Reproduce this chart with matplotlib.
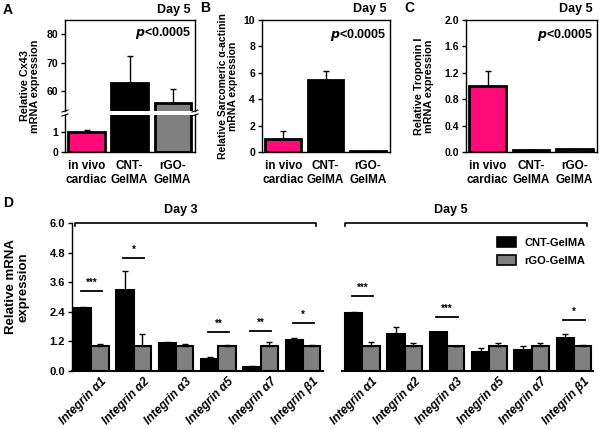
import matplotlib
matplotlib.use("Agg")
import matplotlib.pyplot as plt
from matplotlib.patches import Patch
import numpy as np

plt.rcParams['font.family'] = ['Liberation Sans', 'DejaVu Sans']
plt.rcParams['font.weight'] = 'bold'
plt.rcParams['axes.linewidth'] = 1.0

# ---- data ----
groups_abc = ["in vivo\ncardiac", "CNT-\nGelMA", "rGO-\nGelMA"]
bar_colors = ["#ff0a78", "#000000", "#808080"]

cx43 = [1.0, 63.0, 55.7]
cx43_err = [0.08, 9.3, 5.0]

actinin = [1.0, 5.45, 0.1]
actinin_err = [0.6, 0.65, 0.0]

troponin = [1.0, 0.035, 0.05]
troponin_err = [0.22, 0.0, 0.0]

integrins = ["Integrin α1", "Integrin α2", "Integrin α3",
             "Integrin α5", "Integrin α7", "Integrin β1"]
day3_cnt = [2.56, 3.28, 1.14, 0.49, 0.18, 1.27]
day3_cnt_err = [0.04, 0.77, 0.05, 0.08, 0.02, 0.05]
day3_rgo = [1.0, 1.0, 1.0, 1.0, 1.0, 1.0]
day3_rgo_err = [0.11, 0.51, 0.09, 0.07, 0.18, 0.05]
day5_cnt = [2.36, 1.50, 1.57, 0.79, 0.86, 1.32]
day5_cnt_err = [0.03, 0.28, 0.03, 0.13, 0.14, 0.17]
day5_rgo = [1.0, 1.0, 1.0, 1.0, 1.0, 1.0]
day5_rgo_err = [0.18, 0.15, 0.0, 0.12, 0.15, 0.05]
day3_sig = [("***", 3.24), ("*", 4.6), None, ("**", 1.58), ("**", 1.62), ("*", 1.95)]
day5_sig = [("***", 3.03), None, ("***", 2.19), None, None, ("*", 2.08)]

W, H = 600, 429
fig = plt.figure(figsize=(W / 100, H / 100), dpi=100)


def px_axes(l, t, r, b):
    return fig.add_axes([l / W, 1 - b / H, (r - l) / W, (b - t) / H])


def fig_text(x, y, s, **kw):
    fig.text(x / W, 1 - y / H, s, **kw)


xpos = np.arange(3)
bw = 0.84
xl = (-0.5, 2.52)


def draw_bars(ax, vals, errs):
    ax.bar(xpos, vals, width=bw, color=bar_colors, edgecolor='black', linewidth=2)
    ax.errorbar(xpos, vals, yerr=[np.zeros(3), errs], fmt='none', ecolor='black',
                elinewidth=1, capsize=2.5, capthick=1)
    ax.set_xlim(*xl)


def style_box(ax):
    ax.tick_params(axis='y', direction='out', length=3, width=1, labelsize=7.5, pad=2)
    for lab in ax.get_yticklabels():
        lab.set_fontweight('bold')


def cat_labels(ax):
    ax.set_xticks(xpos)
    ax.set_xticklabels(groups_abc, fontsize=8.5, fontweight='bold', linespacing=1.2)
    ax.tick_params(axis='x', length=0, pad=6)


# ---- Panel A (broken axis) ----
axA_top = px_axes(65, 20, 195, 111)
axA_bot = px_axes(65, 115, 195, 152)
for ax in (axA_top, axA_bot):
    draw_bars(ax, cx43, cx43_err)
    style_box(ax)
axA_top.set_ylim(53, 85)
axA_top.set_yticks([60, 70, 80])
axA_top.spines['bottom'].set_visible(False)
axA_top.tick_params(axis='x', bottom=False, labelbottom=False)
axA_bot.set_ylim(0, 1.85)
axA_bot.set_yticks([0, 1])
axA_bot.spines['top'].set_visible(False)
cat_labels(axA_bot)
for xx in (65, 195):
    for dy in (0, 4):
        fig.add_artist(plt.Line2D([(xx - 3) / W, (xx + 3) / W],
                                  [1 - (111 + dy + 1) / H, 1 - (111 + dy - 1) / H],
                                  color='black', lw=0.8))
fig_text(30, 86, "Relative Cx43\nmRNA expression", rotation=90, ha='center',
         va='center', fontsize=7.8, fontweight='bold', linespacing=1.1)

# ---- Panel B ----
axB = px_axes(262, 20, 390, 152)
draw_bars(axB, actinin, actinin_err)
style_box(axB)
axB.set_ylim(0, 10)
axB.set_yticks([0, 2, 4, 6, 8, 10])
cat_labels(axB)
fig_text(228, 86, "Relative Sarcomeric α-actinin\nmRNA expression", rotation=90,
         ha='center', va='center', fontsize=7.5, fontweight='bold', linespacing=1.1)

# ---- Panel C ----
axC = px_axes(466, 20, 597, 152)
draw_bars(axC, troponin, troponin_err)
style_box(axC)
axC.set_ylim(0, 2.0)
axC.set_yticks([0.0, 0.4, 0.8, 1.2, 1.6, 2.0])
axC.set_yticklabels(["0.0", "0.4", "0.8", "1.2", "1.6", "2.0"])
cat_labels(axC)
fig_text(424, 86, "Relative Troponin I\nmRNA expression", rotation=90,
         ha='center', va='center', fontsize=7.8, fontweight='bold', linespacing=1.1)

for ax in (axA_top, axB, axC):
    ax.text(0.97, 0.95, r"$\bf{\it{p}}$<0.0005", transform=ax.transAxes, ha='right',
            va='top', fontsize=9, fontweight='bold')
for ax in (axA_top, axB, axC):
    ax.text(0.97, 1.04, "Day 5", transform=ax.transAxes, ha='right', va='bottom',
            fontsize=9, fontweight='bold')

for s, x, y in (("A", 3, 10), ("B", 200, 8), ("C", 404, 8), ("D", 3, 203)):
    fig_text(x, y, s, fontsize=10, fontweight='bold', va='center')

# ---- Panel D ----
axD = px_axes(72, 223, 593, 371)
bwd = 0.41
off5 = 6.4
x3 = np.arange(6)
x5 = np.arange(6) + off5
for xs, cv, ce, rv, re_ in ((x3, day3_cnt, day3_cnt_err, day3_rgo, day3_rgo_err),
                            (x5, day5_cnt, day5_cnt_err, day5_rgo, day5_rgo_err)):
    axD.bar(xs - bwd / 2, cv, width=bwd, color='black', edgecolor='black', linewidth=1.5)
    axD.bar(xs + bwd / 2, rv, width=bwd, color='#808080', edgecolor='black', linewidth=1.5)
    axD.errorbar(xs - bwd / 2, cv, yerr=[np.zeros(6), ce], fmt='none', ecolor='black',
                 elinewidth=1, capsize=2.5, capthick=1)
    axD.errorbar(xs + bwd / 2, rv, yerr=[np.zeros(6), re_], fmt='none', ecolor='black',
                 elinewidth=1, capsize=2.5, capthick=1)

for xs, sig in ((x3, day3_sig), (x5, day5_sig)):
    for xc, item in zip(xs, sig):
        if item is None:
            continue
        stars, yl = item
        axD.plot([xc - 0.25, xc + 0.25], [yl, yl], color='black', lw=1.3)
        axD.text(xc, yl + 0.12, stars, ha='center', va='bottom', fontsize=7,
                 fontweight='bold')

axD.set_xlim(-0.46, 11.85)
axD.set_ylim(0, 6.0)
axD.set_yticks([0.0, 1.2, 2.4, 3.6, 4.8, 6.0])
axD.set_yticklabels(["0.0", "1.2", "2.4", "3.6", "4.8", "6.0"])
for side in ('top', 'right', 'bottom'):
    axD.spines[side].set_visible(False)
axD.tick_params(axis='y', direction='out', length=3, width=1, labelsize=8, pad=2)
for lab in axD.get_yticklabels():
    lab.set_fontweight('bold')
axD.set_xticks(np.concatenate([x3, x5]) + 0.22)
axD.set_xticklabels(integrins * 2, rotation=45, ha='right', rotation_mode='anchor',
                    fontsize=8.6, fontweight='bold', fontstyle='italic')
axD.tick_params(axis='x', length=0, pad=3)
# split baseline
axD.plot([-0.46, 5.46], [0, 0], color='black', lw=1.5, clip_on=False)
axD.plot([5.91, 11.85], [0, 0], color='black', lw=1.5, clip_on=False)
# day brackets
for x0, x1, lab in ((-0.39, 5.31, "Day 3"), (5.98, 11.71, "Day 5")):
    axD.plot([x0, x0, x1, x1], [5.88, 6.02, 6.02, 5.88], color='black', lw=1.2,
             clip_on=False)
    axD.text((x0 + x1) / 2 - 0.35, 6.3, lab, ha='center', va='bottom', fontsize=9,
             fontweight='bold')
fig_text(17, 287, "Relative mRNA\nexpression", rotation=90, ha='center', va='center',
         fontsize=9.5, fontweight='bold', linespacing=1.1)

handles = [Patch(facecolor='black', edgecolor='black', lw=1.2, label='CNT-GelMA'),
           Patch(facecolor='#808080', edgecolor='black', lw=1.2, label='rGO-GelMA')]
fig.legend(handles=handles, loc='upper left', bbox_to_anchor=(493 / W, 1 - 233 / H),
           frameon=False, fontsize=8, handlelength=1.7, handleheight=1.0,
           labelspacing=0.6, handletextpad=0.7, borderaxespad=0)

fig.savefig("out.png", dpi=100)
